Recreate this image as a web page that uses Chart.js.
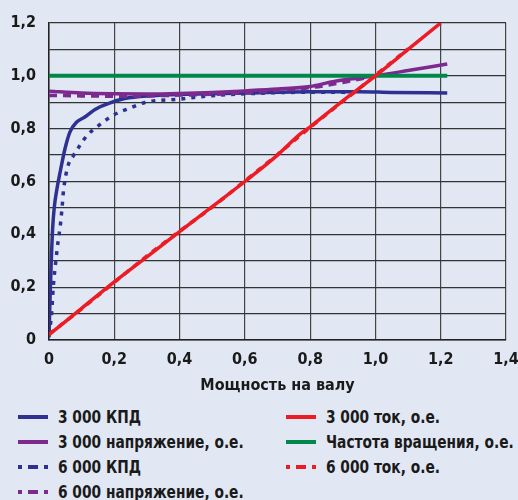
<!DOCTYPE html>
<html>
<head>
<meta charset="utf-8">
<script src="https://cdn.jsdelivr.net/npm/chart.js@4.4.0/dist/chart.umd.min.js"></script>
<style>
  body { margin: 0; background: #e1e8f4; }
  #wrap { position: relative; width: 518px; height: 400px; }
  #legend {
    position: absolute; left: 18px; top: 404px;
    display: grid; grid-auto-flow: column;
    grid-template-rows: repeat(4, 25px);
    grid-template-columns: 268px auto;
    font: bold 17px 'DejaVu Sans Condensed', sans-serif;
    color: #1a1a1a;
  }
  #legend .item { display: flex; align-items: center; white-space: nowrap; }
  #legend canvas { margin-right: 10px; }
  #legend span { display: inline-block; transform: scaleX(0.9); transform-origin: left center; }
</style>
</head>
<body>
<div id="wrap"><canvas id="motorChart"></canvas></div>
<div id="legend"></div>
<script>
// значения (мощность на валу, о.е.)
const kpd3000X = [0, 0.003, 0.007, 0.011, 0.016, 0.024, 0.034, 0.049, 0.064, 0.085, 0.11, 0.141, 0.181, 0.232, 0.314, 0.4, 0.6, 0.8, 0.95, 1.05, 1.22];
const kpd3000Y = [0.01, 0.15, 0.3, 0.42, 0.5, 0.57, 0.635, 0.724, 0.787, 0.825, 0.844, 0.873, 0.895, 0.914, 0.925, 0.93, 0.935, 0.94, 0.94, 0.937, 0.935];

const kpd6000X = [0, 0.008, 0.013, 0.021, 0.028, 0.034, 0.04, 0.044, 0.057, 0.074, 0.095, 0.117, 0.146, 0.197, 0.248, 0.294, 0.4, 0.5, 0.6, 0.8, 0.95];
const kpd6000Y = [0.02, 0.1, 0.2, 0.3, 0.375, 0.427, 0.5, 0.56, 0.654, 0.696, 0.737, 0.775, 0.806, 0.851, 0.878, 0.899, 0.912, 0.925, 0.932, 0.938, 0.937];

const u3000X = [0, 0.1, 0.2, 0.3, 0.4, 0.5, 0.6, 0.7, 0.8, 0.87, 0.95, 1.0, 1.1, 1.22];
const u3000Y = [0.942, 0.935, 0.932, 0.931, 0.933, 0.937, 0.943, 0.95, 0.96, 0.978, 0.992, 1.0, 1.02, 1.045];

const u6000X = [0, 0.1, 0.2, 0.3, 0.4, 0.5, 0.6, 0.7, 0.8, 0.9, 1.0];
const u6000Y = [0.926, 0.924, 0.923, 0.924, 0.927, 0.93, 0.936, 0.945, 0.955, 0.975, 1.0];

const i3000X = [0, 0.1, 0.2, 0.3, 0.4, 0.5, 0.6, 0.7, 0.77, 0.8, 0.9, 1.0, 1.1, 1.2];
const i3000Y = [0.02, 0.12, 0.22, 0.315, 0.41, 0.505, 0.6, 0.7, 0.78, 0.807, 0.905, 1.0, 1.1, 1.2];

const i6000X = [0, 0.1, 0.2, 0.3, 0.4, 0.5, 0.6, 0.7, 0.8, 0.9, 1.0, 1.05, 1.1];
const i6000Y = [0.022, 0.118, 0.218, 0.318, 0.412, 0.503, 0.602, 0.702, 0.805, 0.903, 1.002, 1.052, 1.102];

const freqX = [0, 1.22];
const freqY = [1.0, 1.0];

const yTickLabels = ['0', '', '0,2', '', '0,4', '', '0,6', '', '0,8', '', '1,0', '', '1,2'];
const xTickLabels = ['0', '0,2', '0,4', '0,6', '0,8', '1,0', '1,2', '1,4'];

const BLUE = '#2e3192', PURPLE = '#7d2a8f', RED = '#ed1c24', GREEN = '#00874a';
const FONT = "'DejaVu Sans Condensed', sans-serif";

function pts(xs, ys) {
    return xs.map(function(x, i) { return { x: x, y: ys[i] }; });
}

// порядок = порядок отрисовки (первый сверху)
const datasets = [
    { label: '3 000 ток, о.е.', data: pts(i3000X, i3000Y), borderColor: RED, borderWidth: 3.5, leg: 4 },
    { label: '6 000 ток, о.е.', data: pts(i6000X, i6000Y), borderColor: RED, borderWidth: 3.5, borderDash: [6, 6], leg: 6 },
    { label: 'Частота вращения, о.е.', data: pts(freqX, freqY), borderColor: GREEN, borderWidth: 4, leg: 5 },
    { label: '3 000 напряжение, о.е.', data: pts(u3000X, u3000Y), borderColor: PURPLE, borderWidth: 3.5, leg: 1 },
    { label: '6 000 напряжение, о.е.', data: pts(u6000X, u6000Y), borderColor: PURPLE, borderWidth: 3.5, borderDash: [8, 6], leg: 3 },
    { label: '3 000 КПД', data: pts(kpd3000X, kpd3000Y), borderColor: BLUE, borderWidth: 3.5, leg: 0 },
    { label: '6 000 КПД', data: pts(kpd6000X, kpd6000Y), borderColor: BLUE, borderWidth: 3.5, borderDash: [4, 6], leg: 2 }
];
datasets.forEach(function(d) {
    d.pointRadius = 0;
    d.fill = false;
    d.cubicInterpolationMode = 'monotone';
    d.borderCapStyle = 'butt';
});

const ctx = document.getElementById('motorChart').getContext('2d');
const motorChart = new Chart(ctx, {
    type: 'line',
    data: { datasets: datasets },
    options: {
        responsive: true,
        maintainAspectRatio: false,
        animation: false,
        layout: { padding: { top: 23, right: 0, bottom: 5, left: 0 } },
        plugins: { legend: { display: false }, tooltip: { enabled: false } },
        scales: {
            x: {
                type: 'linear', min: 0, max: 1.4,
                afterFit: function(scale) {
                    scale.height = 55;
                    scale.paddingLeft = 0;
                    scale.paddingRight = 12;
                },
                ticks: {
                    stepSize: 0.2, padding: 10, color: '#1a1a1a',
                    font: { family: FONT, size: 16, weight: 'bold' },
                    callback: function(v, i) { return xTickLabels[i]; }
                },
                grid: { color: '#444', lineWidth: 1.2, drawTicks: false },
                border: { color: '#222', width: 1.5 },
                title: {
                    display: true, text: 'Мощность на валу', color: '#1a1a1a',
                    font: { family: FONT, size: 16, weight: 'bold' },
                    padding: { top: 4, bottom: 0 }
                }
            },
            y: {
                type: 'linear', min: 0, max: 1.2,
                afterFit: function(scale) { scale.width = 49; },
                ticks: {
                    stepSize: 0.1, padding: 13, color: '#1a1a1a',
                    font: { family: FONT, size: 16, weight: 'bold' },
                    callback: function(v, i) { return yTickLabels[i]; }
                },
                grid: { color: '#333', lineWidth: 1.2, drawTicks: false },
                border: { color: '#222', width: 1.5 }
            }
        }
    }
});

// легенда в две колонки, как в оригинале
const legendEl = document.getElementById('legend');
datasets.slice().sort(function(a, b) { return a.leg - b.leg; }).forEach(function(d) {
    const item = document.createElement('div');
    item.className = 'item';
    const c = document.createElement('canvas');
    c.width = 30; c.height = 6;
    const g = c.getContext('2d');
    g.strokeStyle = d.borderColor;
    g.lineWidth = 4;
    if (d.borderDash) g.setLineDash([4, 6, 10, 6]);
    g.beginPath(); g.moveTo(0, 3); g.lineTo(30, 3); g.stroke();
    item.appendChild(c);
    const t = document.createElement('span');
    t.textContent = d.label;
    item.appendChild(t);
    legendEl.appendChild(item);
});
</script>
</body>
</html>
